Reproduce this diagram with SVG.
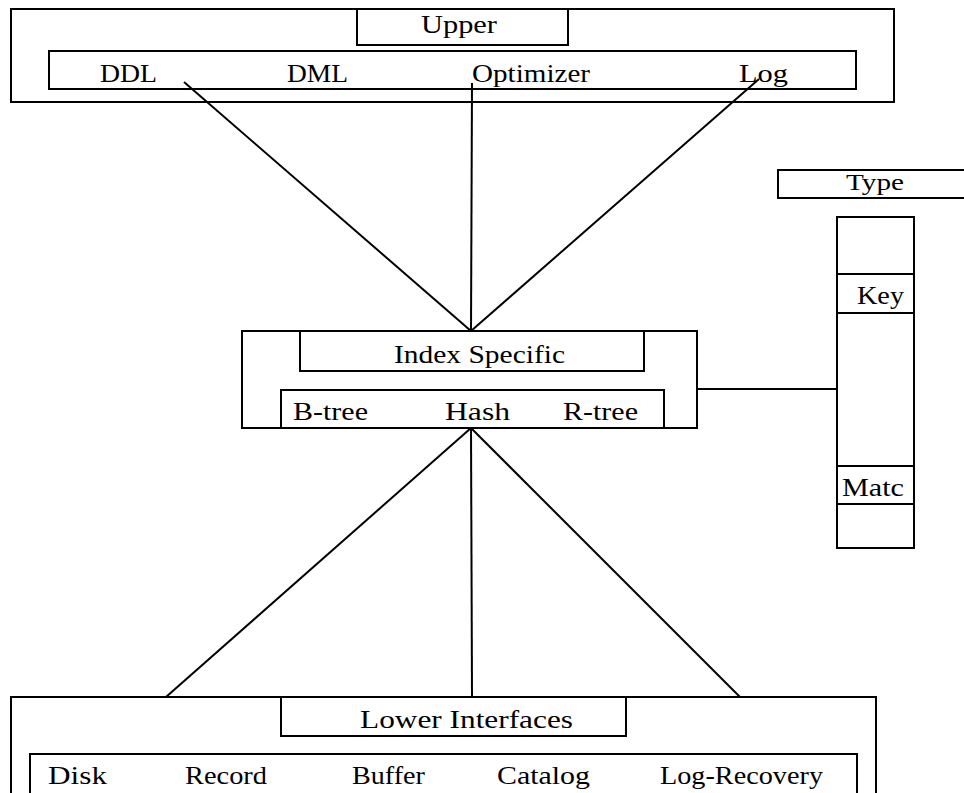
<svg xmlns="http://www.w3.org/2000/svg" width="964" height="793" viewBox="0 0 964 793">
<style>
rect{fill:none;stroke:#000;stroke-width:2}
line{stroke:#000;stroke-width:2}
text{font-family:"Liberation Serif","Times New Roman",serif;font-size:26px;fill:#000}
</style>
<rect x="0" y="0" width="964" height="793" style="fill:#fff;stroke:none"/>
<g id="upper">
<rect x="11" y="9" width="883" height="93"/>
<rect x="357" y="9" width="211" height="36"/>
<rect x="49" y="51" width="807" height="38"/>
<text x="421" y="33" textLength="76" lengthAdjust="spacingAndGlyphs">Upper</text>
<text x="100" y="82" textLength="57" lengthAdjust="spacingAndGlyphs">DDL</text>
<text x="287" y="82" textLength="61" lengthAdjust="spacingAndGlyphs">DML</text>
<text x="472" y="82" textLength="118" lengthAdjust="spacingAndGlyphs">Optimizer</text>
<text x="739" y="82" textLength="49" lengthAdjust="spacingAndGlyphs">Log</text>
</g>
<g id="index">
<rect x="242" y="331" width="455" height="97"/>
<rect x="300" y="331" width="344" height="40"/>
<rect x="281" y="390" width="383" height="38"/>
<text x="394" y="363" textLength="171" lengthAdjust="spacingAndGlyphs">Index Specific</text>
<text x="293" y="420" textLength="75" lengthAdjust="spacingAndGlyphs">B-tree</text>
<text x="445" y="420" textLength="65" lengthAdjust="spacingAndGlyphs">Hash</text>
<text x="563" y="420" textLength="75" lengthAdjust="spacingAndGlyphs">R-tree</text>
</g>
<g id="type">
<rect x="778" y="170" width="200" height="28"/>
<text x="846" y="190" style="font-size:23px" textLength="58" lengthAdjust="spacingAndGlyphs">Type</text>
</g>
<g id="column">
<rect x="837" y="217" width="77" height="331"/>
<line x1="837" y1="274" x2="914" y2="274"/>
<line x1="837" y1="313" x2="914" y2="313"/>
<line x1="837" y1="466" x2="914" y2="466"/>
<line x1="837" y1="504" x2="914" y2="504"/>
<text x="857" y="304" textLength="47" lengthAdjust="spacingAndGlyphs">Key</text>
<text x="842" y="496" textLength="62" lengthAdjust="spacingAndGlyphs">Matc</text>
</g>
<g id="lower">
<rect x="11" y="697" width="865" height="110"/>
<rect x="281" y="697" width="345" height="39"/>
<rect x="30" y="754" width="827" height="60"/>
<text x="360" y="728" textLength="213" lengthAdjust="spacingAndGlyphs">Lower  Interfaces</text>
<text x="48" y="784" textLength="59" lengthAdjust="spacingAndGlyphs">Disk</text>
<text x="185" y="784" textLength="82" lengthAdjust="spacingAndGlyphs">Record</text>
<text x="352" y="784" textLength="73" lengthAdjust="spacingAndGlyphs">Buffer</text>
<text x="497" y="784" textLength="93" lengthAdjust="spacingAndGlyphs">Catalog</text>
<text x="660" y="784" textLength="163" lengthAdjust="spacingAndGlyphs">Log-Recovery</text>
</g>
<g id="connectors">
<line x1="184" y1="82" x2="471" y2="331"/>
<line x1="472" y1="83" x2="471" y2="331"/>
<line x1="759" y1="79" x2="471" y2="331"/>
<line x1="697" y1="389" x2="837" y2="389"/>
<line x1="471" y1="428" x2="166" y2="697"/>
<line x1="471" y1="428" x2="472" y2="697"/>
<line x1="471" y1="428" x2="740" y2="697"/>
</g>
</svg>
